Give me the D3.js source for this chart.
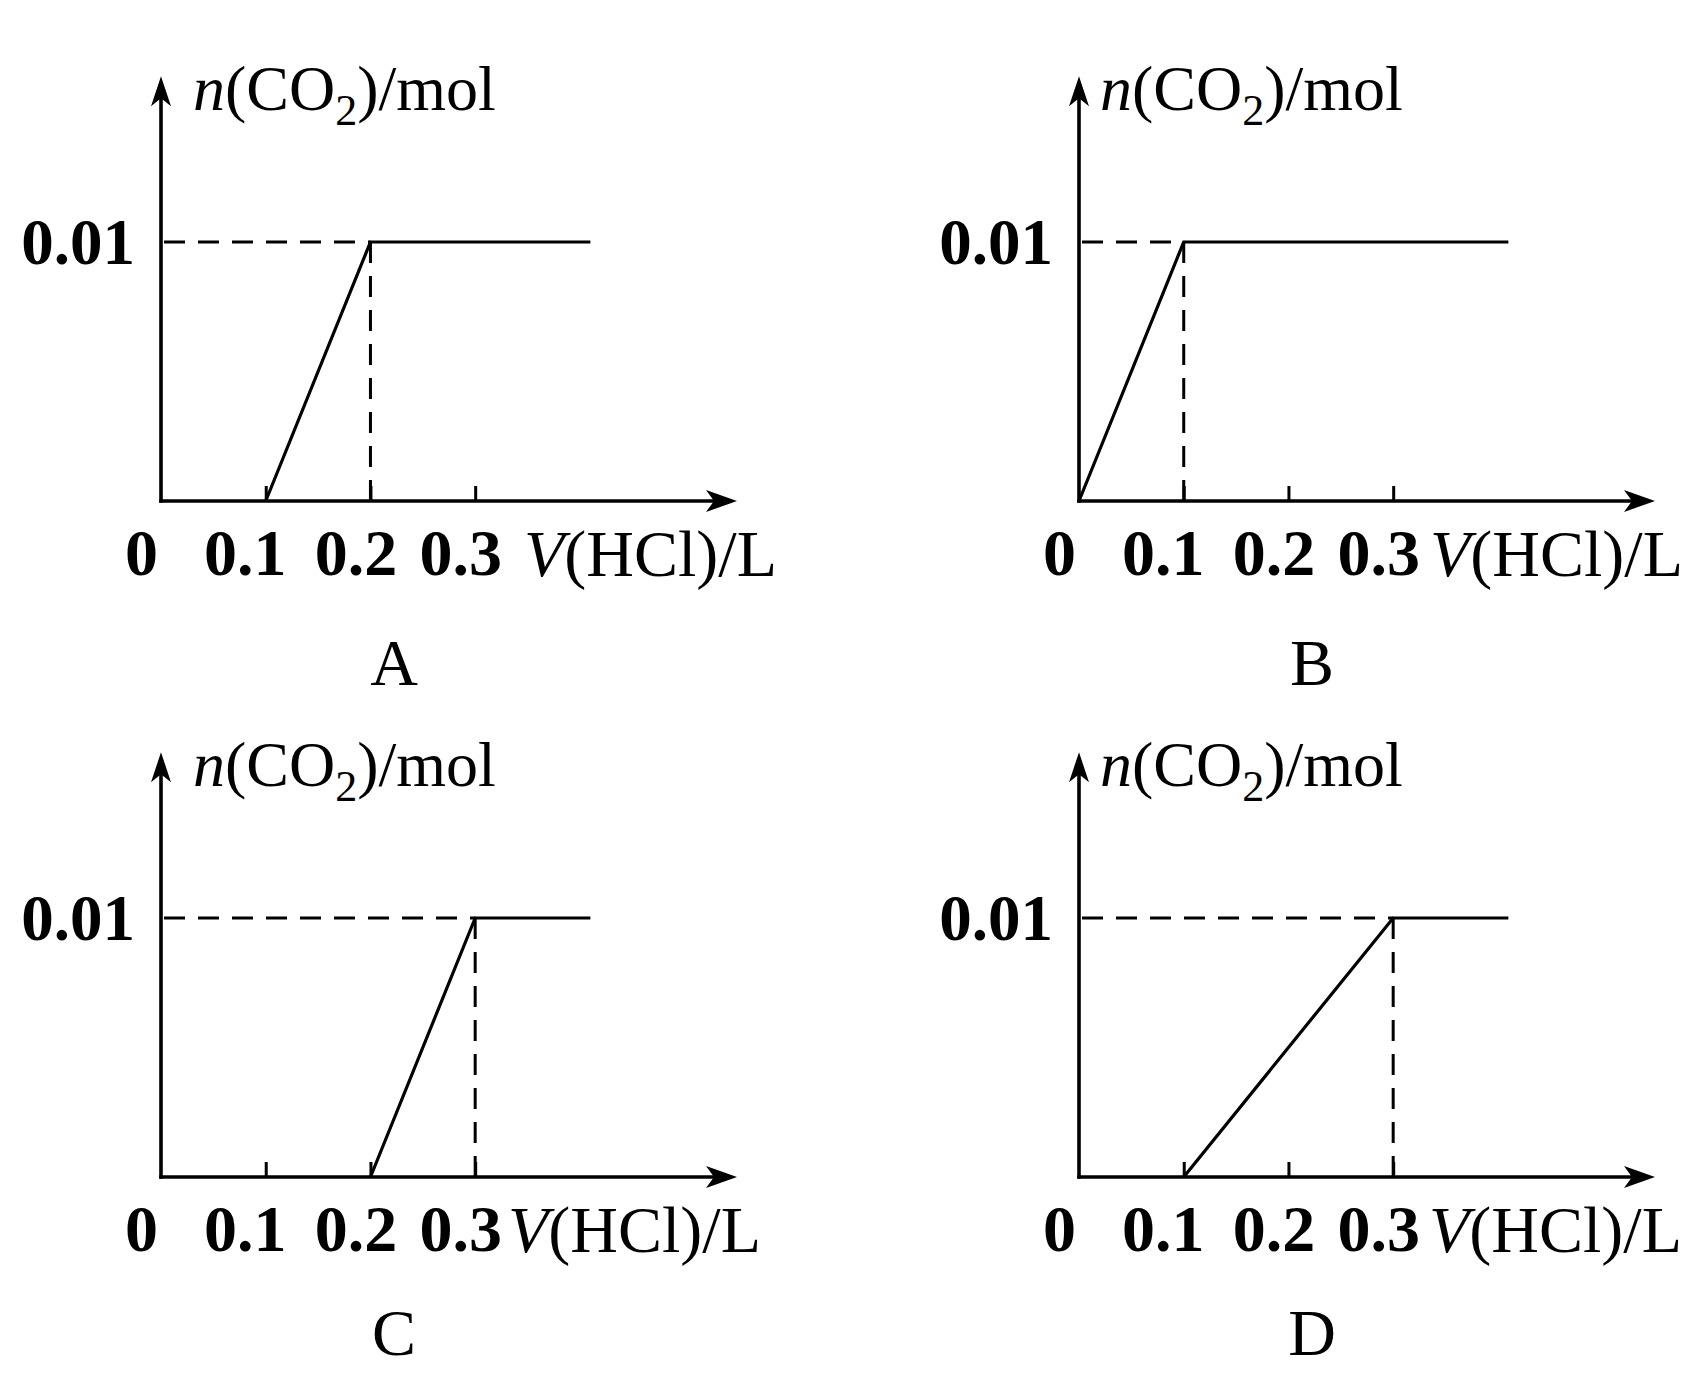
<!DOCTYPE html>
<html>
<head>
<meta charset="utf-8">
<script src="https://cdn.jsdelivr.net/npm/d3@7"></script>
<style>
  html, body { margin: 0; padding: 0; background: #fff; }
  svg { display: block; }
  text { font-family: "Liberation Serif", "Times New Roman", serif; fill: #000; }
</style>
</head>
<body>
<div id="chart"></div>
<script>
// ---- data ----
const panelNames = ["A", "B", "C", "D"];
const seriesA = [{v: 0.1, n: 0}, {v: 0.2, n: 0.01}, {v: 0.41, n: 0.01}];
const seriesB = [{v: 0, n: 0}, {v: 0.1, n: 0.01}, {v: 0.41, n: 0.01}];
const seriesC = [{v: 0.2, n: 0}, {v: 0.3, n: 0.01}, {v: 0.41, n: 0.01}];
const seriesD = [{v: 0.1, n: 0}, {v: 0.3, n: 0.01}, {v: 0.41, n: 0.01}];
const allSeries = [seriesA, seriesB, seriesC, seriesD];
const xTickValues = [0, 0.1, 0.2, 0.3];
const xTickLabels = ["0", "0.1", "0.2", "0.3"];
const yTickValue = 0.01;
const yTickLabel = "0.01";
const xDomainMax = 0.55;
const yDomainMax = 0.0164;

// ---- layout ----
const W = 1700, H = 1397;
const origins = [[161, 501], [1079, 501], [161, 1177], [1079, 1177]];
const xLabelStart = [524, 1430, 508, 1429];
const yLabelStart = [193, 1100, 193, 1100];
const letterDy = [184, 184, 178, 178];

const svg = d3.select("#chart").append("svg")
  .attr("width", W).attr("height", H)
  .attr("viewBox", `0 0 ${W} ${H}`);
svg.append("rect").attr("width", W).attr("height", H).attr("fill", "#fff");

const x = d3.scaleLinear().domain([0, xDomainMax]).range([0, 576]);
const y = d3.scaleLinear().domain([0, 0.01]).range([0, -259]);

function arrowPath(len, hw, notch) {
  return `M0,0 L${-len},${-hw} L${-notch},0 L${-len},${hw} Z`;
}

panelNames.forEach((name, i) => {
  const [ox, oy] = origins[i];
  const g = svg.append("g").attr("transform", `translate(${ox},${oy})`);
  const data = allSeries[i];

  // x axis with ticks (drawn by d3.axisBottom)
  const xAxis = d3.axisBottom(x)
    .tickValues(xTickValues)
    .tickSizeInner(-14)
    .tickSizeOuter(0)
    .tickPadding(0)
    .tickFormat((d, k) => xTickLabels[k]);
  const ax = g.append("g").call(xAxis);
  ax.select(".domain").remove();
  ax.selectAll(".tick line").attr("stroke", "#000").attr("stroke-width", 3)
    .attr("y1", 0).attr("y2", -15)
    .style("display", d => d === 0 ? "none" : null);
  ax.selectAll(".tick text")
    .attr("font-family", "Liberation Serif, Times New Roman, serif")
    .attr("font-weight", "bold")
    .attr("font-size", 66)
    .attr("fill", "#000")
    .attr("dy", null)
    .attr("y", 74)
    .attr("x", (d, k) => d === 0 ? -20 : (k === 1 ? -21 : -15))
    .attr("text-anchor", "middle");

  // x axis line + arrow
  const xEnd = x(xDomainMax);
  g.append("line").attr("x1", -1.8).attr("y1", 0).attr("x2", xEnd - 10).attr("y2", 0)
    .attr("stroke", "#000").attr("stroke-width", 3.6);
  g.append("path").attr("d", arrowPath(31, 11, 23))
    .attr("transform", `translate(${xEnd},0)`).attr("fill", "#000");

  // y axis line + arrow
  const yEnd = y(yDomainMax);
  g.append("line").attr("x1", 0).attr("y1", 1.8).attr("x2", 0).attr("y2", yEnd + 10)
    .attr("stroke", "#000").attr("stroke-width", 3.6);
  g.append("path").attr("d", arrowPath(30, 10, 22))
    .attr("transform", `translate(0,${yEnd}) rotate(-90)`).attr("fill", "#000");

  // dashed guides to the peak point
  const peak = data[1];
  g.append("line")
    .attr("x1", 3).attr("y1", y(peak.n)).attr("x2", x(peak.v)).attr("y2", y(peak.n))
    .attr("stroke", "#000").attr("stroke-width", 3.2).attr("stroke-dasharray", "21,13");
  g.append("line")
    .attr("x1", x(peak.v)).attr("y1", y(peak.n)).attr("x2", x(peak.v)).attr("y2", 0)
    .attr("stroke", "#000").attr("stroke-width", 3).attr("stroke-dasharray", "21,13");

  // data line
  const line = d3.line().x(d => x(d.v)).y(d => y(d.n));
  g.append("path").datum(data).attr("d", line)
    .attr("fill", "none").attr("stroke", "#000").attr("stroke-width", 3.2)
    .attr("stroke-linejoin", "miter");

  // y tick label
  g.append("text")
    .attr("x", -26).attr("y", y(yTickValue) + 22)
    .attr("text-anchor", "end")
    .attr("font-weight", "bold").attr("font-size", 65)
    .text(yTickLabel);

  // y axis title n(CO2)/mol
  const yt = svg.append("text")
    .attr("x", yLabelStart[i]).attr("y", oy - 391)
    .attr("font-size", 64);
  yt.append("tspan").attr("font-style", "italic").text("n");
  yt.append("tspan").text("(CO");
  yt.append("tspan").attr("font-size", 44).attr("dy", 15).text("2");
  yt.append("tspan").attr("dy", -15).text(")/mol");

  // x axis title V(HCl)/L
  const xt = svg.append("text")
    .attr("x", xLabelStart[i]).attr("y", oy + 75)
    .attr("font-size", 66);
  xt.append("tspan").attr("font-style", "italic").text("V");
  xt.append("tspan").text("(HCl)/L");

  // panel letter
  svg.append("text")
    .attr("x", ox + 233).attr("y", oy + letterDy[i])
    .attr("text-anchor", "middle")
    .attr("font-size", 66)
    .text(name);
});
</script>
</body>
</html>
